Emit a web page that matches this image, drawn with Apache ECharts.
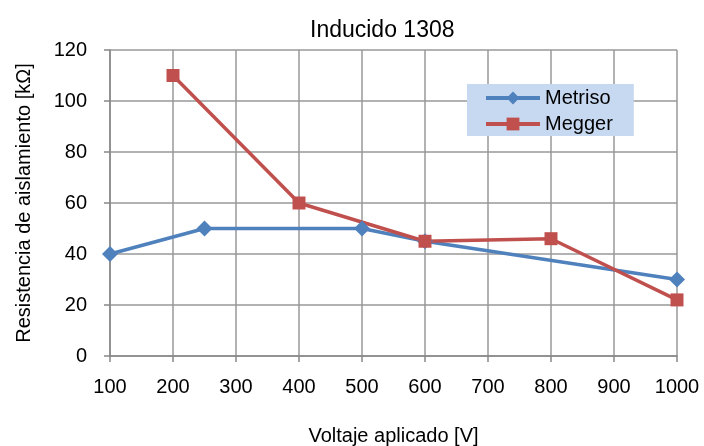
<!DOCTYPE html>
<html><head><meta charset="utf-8">
<script src="https://cdn.jsdelivr.net/npm/echarts@6/dist/echarts.min.js"></script>
<style>html,body{margin:0;padding:0;background:#fff}#c{width:704px;height:446px}</style>
</head><body><div id="c"></div>
<script>
const title = "Inducido 1308";
const xName = "Voltaje aplicado [V]";
const yName = "Resistencia de aislamiento [kΩ]";
const metrisoX = [100, 250, 500, 600, 1000];
const metrisoY = [40, 50, 50, 45, 30];
const meggerX = [200, 400, 600, 800, 1000];
const meggerY = [110, 60, 45, 46, 22];
const zip = (a, b) => a.map((v, i) => [v, b[i]]);
const font = "Liberation Sans, Arial, sans-serif";
const chart = echarts.init(document.getElementById('c'));
chart.setOption({
  animation: false,
  title: {text: title, left: 305, top: 14, textStyle: {fontFamily: font, fontSize: 23, fontWeight: 'normal', color: '#000'}},
  grid: {left: 110, right: 27, top: 50, bottom: 90, containLabel: false, outerBoundsMode: 'none'},
  legend: {
    orient: 'vertical', left: 467, top: 84,
    backgroundColor: '#C6D9F1', padding: [4, 21, 2, 17], itemGap: 6,
    itemWidth: 54, itemHeight: 16,
    lineStyle: {width: 4},
    textStyle: {fontFamily: font, fontSize: 20, color: '#000'},
    data: ['Metriso', 'Megger']
  },
  xAxis: {
    type: 'value', min: 100, max: 1000, interval: 100,
    name: xName, nameLocation: 'middle', nameGap: 70,
    nameTextStyle: {fontFamily: font, fontSize: 20, color: '#000'},
    axisLine: {show: true, lineStyle: {color: '#888', width: 1.5}},
    axisTick: {show: true, length: 6, lineStyle: {color: '#888', width: 1.5}},
    axisLabel: {fontFamily: font, fontSize: 20, color: '#000', margin: 21, formatter: v => String(v)},
    splitLine: {show: true, lineStyle: {color: '#999', width: 1.5}}
  },
  yAxis: {
    type: 'value', min: 0, max: 120, interval: 20,
    name: yName, nameLocation: 'middle', nameGap: 76,
    nameTextStyle: {fontFamily: font, fontSize: 20, color: '#000'},
    axisLine: {show: true, lineStyle: {color: '#888', width: 1.5}},
    axisTick: {show: true, length: 6, lineStyle: {color: '#888', width: 1.5}},
    axisLabel: {fontFamily: font, fontSize: 20, color: '#000', margin: 23},
    splitLine: {show: true, lineStyle: {color: '#999', width: 1.5}}
  },
  series: [
    {name: 'Metriso', type: 'line', data: zip(metrisoX, metrisoY),
     symbol: 'diamond', symbolSize: 16, showAllSymbol: true,
     lineStyle: {color: '#4F81BD', width: 3.5}, itemStyle: {color: '#4F81BD'}},
    {name: 'Megger', type: 'line', data: zip(meggerX, meggerY),
     symbol: 'rect', symbolSize: 13, showAllSymbol: true,
     lineStyle: {color: '#C0504D', width: 3.5}, itemStyle: {color: '#C0504D'}}
  ]
});
</script></body></html>
